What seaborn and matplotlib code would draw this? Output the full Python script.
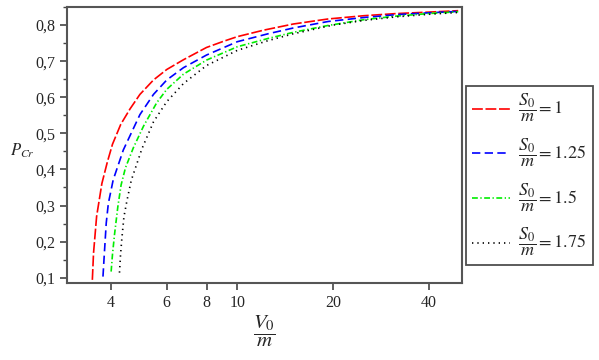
import matplotlib
matplotlib.use("Agg")
import matplotlib.pyplot as plt
import seaborn as sns
import pandas as pd
from matplotlib.lines import Line2D

# values (V0/m on x, P_Cr on y)
red_x = [3.50, 3.53, 3.61, 3.75, 3.90, 4.05, 4.30, 4.60, 4.94, 5.45, 6.00, 6.77, 8.00, 9.04, 10.0, 12.1, 15.0, 19.3, 25.0, 31.7, 40.0, 49.5]
red_y = [0.094, 0.168, 0.270, 0.361, 0.420, 0.470, 0.525, 0.568, 0.608, 0.648, 0.677, 0.704, 0.738, 0.755, 0.768, 0.786, 0.803, 0.817, 0.826, 0.832, 0.836, 0.840]

blue_x = [3.78, 3.81, 3.87, 3.93, 4.07, 4.38, 4.94, 5.45, 6.00, 6.77, 8.00, 10.0, 12.5, 15.0, 19.3, 25.0, 31.7, 40.0, 49.5]
blue_y = [0.103, 0.154, 0.251, 0.306, 0.371, 0.454, 0.552, 0.608, 0.648, 0.682, 0.717, 0.754, 0.776, 0.792, 0.810, 0.821, 0.829, 0.834, 0.838]

green_x = [4.01, 4.05, 4.11, 4.21, 4.31, 4.45, 4.71, 5.07, 5.58, 6.00, 6.77, 8.00, 10.0, 12.5, 15.0, 19.3, 25.0, 31.7, 40.0, 49.5]
green_y = [0.117, 0.165, 0.220, 0.297, 0.357, 0.405, 0.460, 0.520, 0.585, 0.622, 0.664, 0.703, 0.740, 0.763, 0.780, 0.799, 0.815, 0.825, 0.832, 0.837]

black_x = [4.26, 4.29, 4.33, 4.40, 4.50, 4.64, 5.01, 5.45, 6.00, 6.77, 8.00, 10.0, 12.5, 15.0, 20.0, 25.0, 31.7, 40.0, 49.5]
black_y = [0.114, 0.160, 0.205, 0.269, 0.315, 0.370, 0.457, 0.532, 0.588, 0.638, 0.688, 0.730, 0.757, 0.776, 0.800, 0.813, 0.823, 0.830, 0.835]

series_labels = [r"$\dfrac{S_0}{m}=1$", r"$\dfrac{S_0}{m}=1.25$",
                 r"$\dfrac{S_0}{m}=1.5$", r"$\dfrac{S_0}{m}=1.75$"]
colors = ["#ff0000", "#0000ff", "#00ee00", "#000000"]
dash_styles = [(6.5, 1.6), (5, 2.6), (3.5, 1.5, 0.8, 1.5), (0.8, 2.4)]

x_ticks = [4, 6, 8, 10, 20, 40]
y_ticks = [0.1, 0.2, 0.3, 0.4, 0.5, 0.6, 0.7, 0.8]
y_tick_labels = ["0,1", "0,2", "0,3", "0,4", "0,5", "0,6", "0,7", "0,8"]

sns.set_style("ticks")
plt.rcParams["font.family"] = ["Liberation Serif", "DejaVu Serif"]
plt.rcParams["mathtext.fontset"] = "stix"

frames = []
for lab, xs, ys in zip(series_labels,
                       [red_x, blue_x, green_x, black_x],
                       [red_y, blue_y, green_y, black_y]):
    frames.append(pd.DataFrame({"V": xs, "P": ys, "series": lab}))
df = pd.concat(frames, ignore_index=True)

fig = plt.figure(figsize=(5.99, 3.60), dpi=100)
ax = fig.add_axes([0.1124, 0.2131, 0.6594, 0.7683])

sns.lineplot(data=df, x="V", y="P", hue="series", style="series",
             palette=dict(zip(series_labels, colors)),
             dashes=dict(zip(series_labels, dash_styles)),
             linewidth=1.2, sort=False, estimator=None, legend=False, ax=ax)

ax.set_xscale("log")
ax.set_xlim(2.92, 51.0)
ax.set_ylim(0.0845, 0.851)
ax.set_xticks(x_ticks)
ax.set_xticklabels([str(t) for t in x_ticks])
ax.xaxis.set_minor_locator(matplotlib.ticker.NullLocator())
ax.set_yticks(y_ticks)
ax.set_yticklabels(y_tick_labels)
ax.set_yticks([0.15, 0.25, 0.35, 0.45, 0.55, 0.65, 0.75, 0.85], minor=True)
ax.tick_params(axis="both", which="major", length=5, width=1.2, color="#444444",
               labelsize=11.5, direction="out")
ax.tick_params(axis="y", which="minor", length=3, width=1.0, color="#444444")
ax.set_xlabel("")
ax.set_ylabel("")
for sp in ax.spines.values():
    sp.set_visible(True)
    sp.set_color("#555555")
    sp.set_linewidth(1.5)

fig.text(0.038, 0.58, r"$P_{Cr}$", fontsize=12, ha="center", va="center")
fig.text(0.442, 0.080, r"$\dfrac{V_0}{m}$", fontsize=15, ha="center", va="center")

handles = [Line2D([], [], color=c, linewidth=1.2, dashes=d)
           for c, d in zip(colors, dash_styles)]
leg = ax.legend(handles, series_labels, loc="upper left",
                bbox_to_anchor=(0.778, 0.761), bbox_transform=fig.transFigure,
                fontsize=13, frameon=True, fancybox=False, handlelength=2.1,
                labelspacing=0.7, borderpad=0.35, handletextpad=0.45,
                borderaxespad=0)
leg.get_frame().set_edgecolor("#222222")
leg.get_frame().set_linewidth(1.3)

fig.savefig("out.png", dpi=100)
